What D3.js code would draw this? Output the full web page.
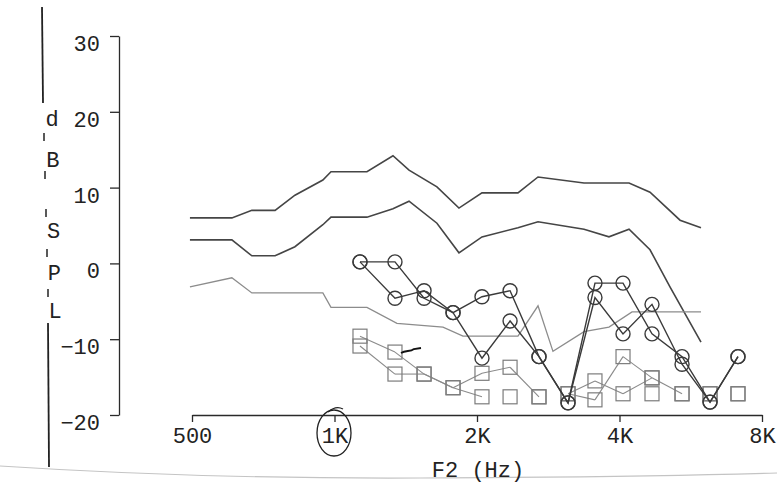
<!DOCTYPE html>
<html>
<head>
<meta charset="utf-8">
<script src="https://d3js.org/d3.v7.min.js"></script>
<style>
  body { margin: 0; background: #fff; }
  text { font-family: "Liberation Mono", "Courier New", monospace; fill: #222; }
</style>
</head>
<body>
<div id="chart"></div>
<script>
var svgWidth = 777;
var svgHeight = 487;

// normative band lines (freq in Hz, level in dB SPL)
var upperFreq = [495, 607, 669, 749, 825, 945, 983, 1171, 1329, 1437, 1646, 1832, 2049, 2441, 2691, 3366, 4190, 4640, 5370, 5946];
var upperDb   = [6.0, 6.0, 7.0, 7.0, 9.0, 11.0, 12.1, 12.1, 14.2, 12.3, 10.1, 7.3, 9.3, 9.3, 11.4, 10.6, 10.6, 9.4, 5.7, 4.7];

var lowerFreq = [495, 607, 669, 749, 825, 945, 983, 1171, 1329, 1437, 1646, 1832, 2049, 2441, 2691, 3366, 3800, 4190, 4640, 5113, 5946];
var lowerDb   = [3.1, 3.1, 1.0, 1.0, 2.2, 5.1, 6.1, 6.1, 7.2, 8.2, 5.3, 1.4, 3.5, 4.7, 5.5, 4.5, 3.5, 4.5, 1.8, -3.1, -10.4];

var grayFreq = [495, 607, 669, 945, 983, 1171, 1355, 1695, 1868, 2441, 2691, 2894, 3366, 3800, 4251, 5946];
var grayDb   = [-3.1, -1.9, -3.9, -3.9, -5.8, -5.8, -7.9, -8.4, -9.6, -9.6, -5.6, -11.6, -9.0, -8.4, -6.4, -6.4];

// DPOAE test frequencies (F2)
var dpFreq = [1132, 1342, 1546, 1780, 2049, 2349, 2704, 3114, 3550, 4069, 4685, 5422, 6213, 7118];

// DP levels, two runs (circles)
var dpA = [0.2, 0.2, -4.6, -6.5, -4.4, -3.6, -12.3, -18.4, -2.6, -2.6, -9.3, -12.3, -18.3, -12.3];
var dpB = [0.2, -4.6, -3.6, -6.5, -12.5, -7.6, -12.3, -18.4, -4.5, -9.3, -5.4, -13.3, -18.3, -12.3];

// noise floor, two runs (squares) + whether segment to the next point is drawn
var nfA = [-9.6, -11.7, -14.6, -16.4, -14.5, -13.7, -17.6, -17.2, -15.5, -17.2, -15.1, -17.2, -17.2, -17.2];
var linkA = [1, 1, 1, 1, 1, 1, 0, 1, 1, 1, 1, 0, 0];
var nfB = [-10.9, -14.6, -14.6, -16.4, -17.6, -17.6, -17.6, -17.2, -18.0, -12.3, -15.1, -17.2, -17.2, -17.2];
var linkB = [1, 1, 1, 1, 0, 0, 0, 1, 1, 1, 0, 0, 0];
var nfExtraFreq = [4685];
var nfExtraDb = [-17.2];

// axis ticks
var xTickValues = [500, 1000, 2000, 4000, 8000];
var xTickLabels = ["500", "1K", "2K", "4K", "8K"];
var yTickValues = [-20, -10, 0, 10, 20, 30];

var svg = d3.select("#chart")
  .append("svg")
  .attr("width", svgWidth)
  .attr("height", svgHeight);

var x = d3.scaleLog()
  .domain([500, 8000])
  .range([192, 762]);

var y = d3.scaleLinear()
  .domain([-20, 30])
  .range([415, 36]);

// faint paper edge at the bottom
svg.append("path")
  .attr("d", "M0,466 Q200,479 420,478 T777,473")
  .attr("fill", "none")
  .attr("stroke", "#c4c4c4")
  .attr("stroke-width", 1.2);

// y axis
var leftAxis = d3.axisLeft(y)
  .tickValues(yTickValues)
  .tickSize(9)
  .tickSizeOuter(0)
  .tickPadding(10);

var yAxis = svg.append("g")
  .attr("transform", "translate(119,0)")
  .call(leftAxis);

yAxis.selectAll("text")
  .attr("dy", "0.66em")
  .style("font-size", "22px");

// x axis
var bottomAxis = d3.axisBottom(x)
  .tickValues(xTickValues)
  .tickFormat(function(d, i) { return xTickLabels[i]; })
  .tickSize(7)
  .tickSizeOuter(0)
  .tickPadding(6);

var xAxis = svg.append("g")
  .attr("transform", "translate(0,415)")
  .call(bottomAxis);

xAxis.selectAll("text")
  .attr("y", 12)
  .attr("dy", "0.72em")
  .style("font-size", "22px");

svg.selectAll(".domain, .tick line")
  .attr("stroke", "#2a2a2a")
  .attr("stroke-width", 1.3);

svg.append("text")
  .attr("x", 478)
  .attr("y", 477)
  .attr("text-anchor", "middle")
  .style("font-size", "22px")
  .text("F2 (Hz)");

// vertical "dB SPL" label with its rule
svg.append("line")
  .attr("x1", 42).attr("y1", 7)
  .attr("x2", 43).attr("y2", 103)
  .attr("stroke", "#222").attr("stroke-width", 1.8);
svg.append("line")
  .attr("x1", 48).attr("y1", 323)
  .attr("x2", 49).attr("y2", 467)
  .attr("stroke", "#222").attr("stroke-width", 1.8);

var labelChars = ["d", "B", "S", "P", "L"];
var labelY = [126, 167, 238, 280, 318];
svg.selectAll(".ylab")
  .data(labelChars)
  .enter()
  .append("text")
  .attr("class", "ylab")
  .attr("x", function(d, i) { return 52 + i * 0.8; })
  .attr("y", function(d, i) { return labelY[i]; })
  .attr("text-anchor", "middle")
  .style("font-size", "22px")
  .text(function(d) { return d; });

var dashY = [137, 175, 213, 253, 293];
svg.selectAll(".ydash")
  .data(dashY)
  .enter()
  .append("line")
  .attr("x1", function(d, i) { return 44 + i; })
  .attr("x2", function(d, i) { return 44 + i; })
  .attr("y1", function(d) { return d - 4; })
  .attr("y2", function(d) { return d + 4; })
  .attr("stroke", "#222")
  .attr("stroke-width", 1.5);

// normative lines
var line = d3.line()
  .x(function(d) { return x(d[0]); })
  .y(function(d) { return y(d[1]); });

function pairs(fs, vs) {
  return fs.map(function(f, i) { return [f, vs[i]]; });
}

svg.append("path")
  .attr("d", line(pairs(upperFreq, upperDb)))
  .attr("fill", "none").attr("stroke", "#454545").attr("stroke-width", 1.6);

svg.append("path")
  .attr("d", line(pairs(lowerFreq, lowerDb)))
  .attr("fill", "none").attr("stroke", "#454545").attr("stroke-width", 1.6);

svg.append("path")
  .attr("d", line(pairs(grayFreq, grayDb)))
  .attr("fill", "none").attr("stroke", "#8c8c8c").attr("stroke-width", 1.3);

// noise floor segments + squares
function drawNoise(vals, links) {
  var pts = pairs(dpFreq, vals);
  links.forEach(function(l, i) {
    if (!l) return;
    svg.append("line")
      .attr("x1", x(pts[i][0])).attr("y1", y(pts[i][1]))
      .attr("x2", x(pts[i + 1][0])).attr("y2", y(pts[i + 1][1]))
      .attr("stroke", "#8a8a8a").attr("stroke-width", 1.1);
  });
  svg.append("g").selectAll("rect")
    .data(pts)
    .enter()
    .append("rect")
    .attr("x", function(d) { return x(d[0]) - 7; })
    .attr("y", function(d) { return y(d[1]) - 7; })
    .attr("width", 14)
    .attr("height", 14)
    .attr("fill", "none")
    .attr("stroke", "#7c7c7c")
    .attr("stroke-width", 1.2);
}
drawNoise(nfA, linkA);
drawNoise(nfB, linkB);

svg.append("g").selectAll("rect")
  .data(pairs(nfExtraFreq, nfExtraDb))
  .enter()
  .append("rect")
  .attr("x", function(d) { return x(d[0]) - 7; })
  .attr("y", function(d) { return y(d[1]) - 7; })
  .attr("width", 14)
  .attr("height", 14)
  .attr("fill", "none")
  .attr("stroke", "#7c7c7c")
  .attr("stroke-width", 1.2);

// DP runs: lines + circles
function drawDp(vals) {
  var pts = pairs(dpFreq, vals);
  svg.append("path")
    .attr("d", line(pts))
    .attr("fill", "none").attr("stroke", "#3a3a3a").attr("stroke-width", 1.4);
  svg.append("g").selectAll("circle")
    .data(pts)
    .enter()
    .append("circle")
    .attr("cx", function(d) { return x(d[0]); })
    .attr("cy", function(d) { return y(d[1]); })
    .attr("r", 7)
    .attr("fill", "none")
    .attr("stroke", "#3a3a3a")
    .attr("stroke-width", 1.4);
}
drawDp(dpA);
drawDp(dpB);

// hand marks on the printout
svg.append("ellipse")
  .attr("cx", 334).attr("cy", 433)
  .attr("rx", 17).attr("ry", 23)
  .attr("fill", "none").attr("stroke", "#222").attr("stroke-width", 1.3);
svg.append("path")
  .attr("d", "M328,412 Q336,405 343,409")
  .attr("fill", "none").attr("stroke", "#222").attr("stroke-width", 1.2);
svg.append("path")
  .attr("d", "M401,353 C406,350 410,352 414,349 L421,348")
  .attr("fill", "none").attr("stroke", "#111").attr("stroke-width", 1.8);
</script>
</body>
</html>
